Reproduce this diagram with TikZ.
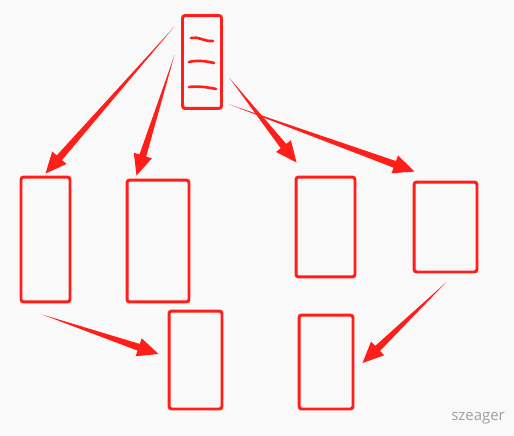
\documentclass[tikz,border=0pt]{standalone}
\usepackage{fontspec}
\usepackage{tikz}
\usetikzlibrary{calc}
\newfontfamily\markfont{Open Sans}
\definecolor{penred}{RGB}{255,30,25}
\definecolor{paper}{RGB}{249,249,249}
\definecolor{markgray}{RGB}{160,160,160}

% tapered hand-drawn arrow: thin at #1, head at #2
\newcommand{\taperarrow}[2]{%
  \coordinate (hb) at ($(#2)!0.42cm!(#1)$);
  \fill[penred] (#1) -- ($(hb)!0.07cm!90:(#2)$) -- ($(hb)!0.19cm!90:(#2)$)
    -- (#2) -- ($(hb)!0.19cm!-90:(#2)$) -- ($(hb)!0.07cm!-90:(#2)$) -- cycle;
}

\begin{document}
\begin{tikzpicture}[
    x=0.02cm, y=-0.02cm,
    box/.style={rectangle, draw=penred, line width=1.7pt, rounded corners=1.5pt, inner sep=0pt},
    scribble/.style={draw=penred, line width=1.5pt, line cap=round},
]

% Background
\fill[paper] (0,0) rectangle (514,436);
\useasboundingbox (0,0) rectangle (514,436);

% Top box with notes
\node[box, minimum width=0.78cm, minimum height=1.86cm] (top) at (202,62) {};
\draw[scribble] (191,38) .. controls (198,36) and (205,42) .. (213,41);
\draw[scribble] (189,62) .. controls (197,60) and (206,61) .. (214,63);
\draw[scribble] (189,87) .. controls (197,86) and (207,87) .. (216,89);

% Middle row
\node[box, minimum width=0.98cm, minimum height=2.5cm] (boxA) at (45.5,239.5) {};
\node[box, minimum width=1.24cm, minimum height=2.44cm] (boxB) at (158,241) {};
\node[box, minimum width=1.18cm, minimum height=2.0cm] (boxC) at (325.5,227) {};
\node[box, minimum width=1.26cm, minimum height=1.8cm] (boxD) at (445.5,227) {};

% Bottom row
\node[box, minimum width=1.06cm, minimum height=1.96cm] (boxE) at (195.5,360) {};
\node[box, minimum width=1.08cm, minimum height=1.88cm] (boxF) at (326,362) {};

% Arrow ends
\coordinate (s1) at ($(top.north west)+(-6.5,12.5)$);
\coordinate (s2) at ($(top.west)+(-6.5,-7)$);
\coordinate (s3) at ($(top.east)+(6.5,16)$);
\coordinate (s4) at ($(top.south east)+(6.5,-5.5)$);
\coordinate (s5) at ($(boxA.south)+(-3.5,11)$);
\coordinate (s6) at ($(boxD.south)+(0.5,9)$);

% Arrows
\taperarrow{s1}{$(boxA.north)+(0,-2)$}
\taperarrow{s2}{$(boxB.north west)+(11,-3)$}
\taperarrow{s3}{$(boxC.north west)+(2,-13)$}
\taperarrow{s4}{$(boxD.north west)+(2,-9)$}
\taperarrow{s5}{$(boxE.west)+(-9,-6)$}
\taperarrow{s6}{$(boxF.east)+(8,1)$}

% Watermark
\node[text=markgray, font=\markfont\fontsize{8.5}{10}\selectfont] (mark) at (478,418) {szeager};

\end{tikzpicture}
\end{document}
